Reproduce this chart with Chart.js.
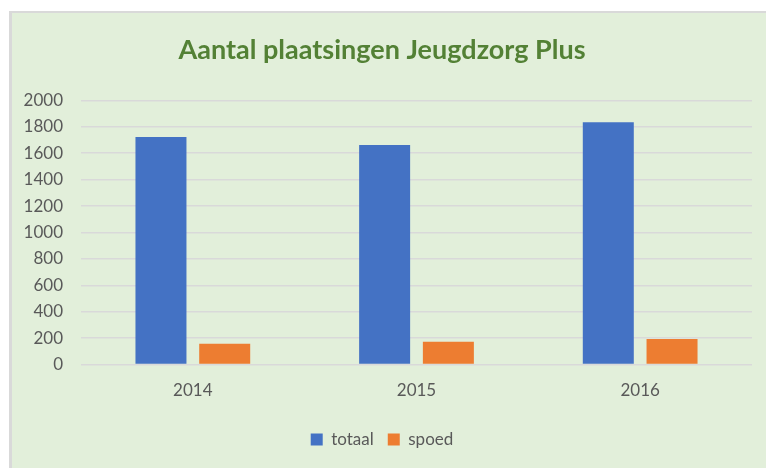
<!DOCTYPE html>
<html>
<head>
<meta charset="utf-8">
<script src="https://cdn.jsdelivr.net/npm/chart.js@4.4.0/dist/chart.umd.min.js"></script>
<style>
  html, body { margin: 0; padding: 0; background: #fff; }
  #panel {
    position: absolute; left: 9px; top: 11px; width: 757px; height: 457px;
    background: #e2efda; border-left: 3px solid #d9d9d9; border-top: 2px solid #d9d9d9;
    box-sizing: border-box;
  }
  #myChart { display: block; }
</style>
</head>
<body>
<div id="panel"><canvas id="myChart" width="754" height="455"></canvas></div>
<script>
const years = ['2014', '2015', '2016'];
const totaal = [1722, 1662, 1835];
const spoed = [158, 173, 193];
const yTicks = [0, 200, 400, 600, 800, 1000, 1200, 1400, 1600, 1800, 2000];

const grey = '#595959';
const ctx = document.getElementById('myChart').getContext('2d');

new Chart(ctx, {
    type: 'bar',
    data: {
        labels: years,
        datasets: [
            {
                label: 'totaal',
                data: totaal,
                backgroundColor: '#4472c4',
                categoryPercentage: 0.57,
                barPercentage: 0.8,
            },
            {
                label: 'spoed',
                data: spoed,
                backgroundColor: '#ed7d31',
                categoryPercentage: 0.57,
                barPercentage: 0.8,
            },
        ],
    },
    options: {
        responsive: false,
        animation: false,
        layout: {
            padding: { left: 0, right: 14, top: 0, bottom: 10 },
        },
        plugins: {
            title: {
                display: true,
                text: 'Aantal plaatsingen Jeugdzorg Plus',
                color: '#538135',
                font: { family: 'Lato', size: 27, weight: 'bold' },
                padding: { top: 21, bottom: 34 },
            },
            legend: {
                display: true,
                position: 'bottom',
                labels: {
                    color: grey,
                    font: { family: 'Lato', size: 17 },
                    boxWidth: 12,
                    boxHeight: 12,
                    padding: 14,
                },
            },
            tooltip: { enabled: false },
        },
        scales: {
            x: {
                grid: { display: false, drawTicks: false },
                border: { display: false },
                ticks: {
                    color: grey,
                    font: { family: 'Lato', size: 17 },
                    padding: 16,
                },
            },
            y: {
                min: 0,
                max: 2000,
                afterFit: function (axis) { axis.width = 69; },
                afterBuildTicks: function (axis) {
                    axis.ticks = yTicks.map(function (v) { return { value: v }; });
                },
                grid: { color: '#d9d9d9', lineWidth: 1.5, drawTicks: false },
                border: { display: false },
                ticks: {
                    color: grey,
                    font: { family: 'Lato', size: 17 },
                    padding: 18,
                    callback: function (value) { return String(value); },
                },
            },
        },
    },
});
</script>
</body>
</html>
